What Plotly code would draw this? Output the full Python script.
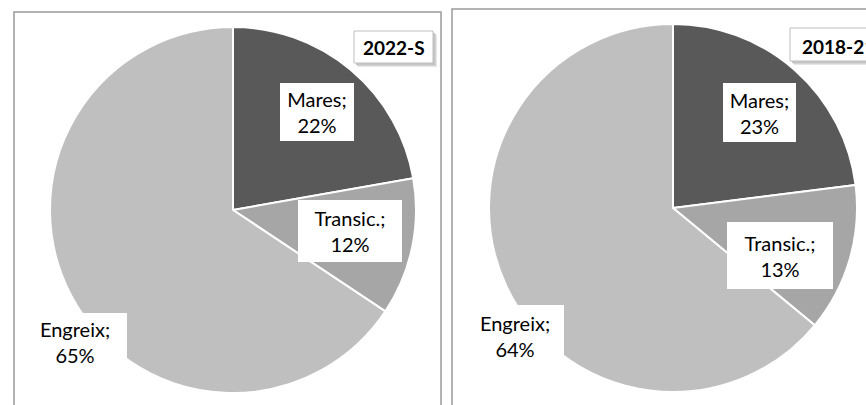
import plotly.graph_objects as go

# ---- data ----
categories = ["Mares", "Transic.", "Engreix"]
values_2022 = [22, 12, 65]
values_2018 = [23, 13, 64]
titles = ["2022-S", "2018-21"]
colors = ["#595959", "#a6a6a6", "#bfbfbf"]

W, H = 866, 405
FONT = "Lato"


def fx(x):
    return x / W


def fy(y):
    return 1 - y / H


fig = go.Figure()

# pies: (values, domain in pixels x0,x1,y0,y1 from top)
pies = [
    (values_2022, (50, 416, 27, 393)),
    (values_2018, (489, 857, 24, 392)),
]
for vals, (x0, x1, y0, y1) in pies:
    fig.add_trace(go.Pie(
        labels=categories,
        values=vals,
        sort=False,
        direction="clockwise",
        rotation=0,
        marker=dict(colors=colors, line=dict(color="white", width=2)),
        textinfo="none",
        hoverinfo="label+percent",
        showlegend=False,
        domain=dict(x=[fx(x0), fx(x1)], y=[fy(y1), fy(y0)]),
    ))

shapes = []
# outer chart borders
for (x0, x1, y0, y1) in [(14, 441, 12, 420), (452, 880, 9, 420)]:
    shapes.append(dict(type="rect", xref="paper", yref="paper",
                       x0=fx(x0), x1=fx(x1), y0=fy(y1), y1=fy(y0),
                       line=dict(color="#9a9a9a", width=1.5), fillcolor="rgba(0,0,0,0)"))

# title boxes with soft shadow
title_boxes = [(354, 433, 31, 63), (790, 890, 28, 61)]
for (x0, x1, y0, y1) in title_boxes:
    for off, col in [(4, "#e6e6e6"), (3, "#d4d4d4"), (2, "#c4c4c4")]:
        shapes.append(dict(type="rect", xref="paper", yref="paper",
                           x0=fx(x0 + off), x1=fx(x1 + off), y0=fy(y1 + off), y1=fy(y0 + off),
                           line=dict(width=0), fillcolor=col))
    shapes.append(dict(type="rect", xref="paper", yref="paper",
                       x0=fx(x0), x1=fx(x1), y0=fy(y1), y1=fy(y0),
                       line=dict(color="#bfbfbf", width=1), fillcolor="white"))

annotations = []
# titles
annotations.append(dict(text="<b>%s</b>" % titles[0], x=fx(393.5), y=fy(48), xref="paper", yref="paper",
                        xanchor="center", yanchor="middle", showarrow=False,
                        font=dict(family=FONT, size=19, color="#000000")))
annotations.append(dict(text="<b>%s</b>" % titles[1], x=fx(800), y=fy(46), xref="paper", yref="paper",
                        xanchor="left", yanchor="middle", showarrow=False,
                        font=dict(family=FONT, size=19, color="#000000")))

# data labels: box (x0, x1, y0, y1) per slice
label_boxes = [
    [(280, 354, 83, 141), (298, 402, 200, 262), (23, 127, 313, 370)],
    [(723, 796, 83, 142), (727, 833, 222, 289), (466, 564, 305, 366)],
]
for vals, boxes in zip([values_2022, values_2018], label_boxes):
    for cat, v, (x0, x1, y0, y1) in zip(categories, vals, boxes):
        annotations.append(dict(
            text="%s;<br>%d%%" % (cat, v),
            x=fx((x0 + x1) / 2), y=fy((y0 + y1) / 2), xref="paper", yref="paper",
            xanchor="center", yanchor="middle", showarrow=False,
            width=x1 - x0, height=y1 - y0, borderpad=0, borderwidth=0,
            bgcolor="white", align="center", valign="middle",
            font=dict(family=FONT, size=20, color="#000000"),
        ))

fig.update_layout(
    width=W, height=H,
    margin=dict(l=0, r=0, t=0, b=0),
    paper_bgcolor="white",
    plot_bgcolor="white",
    shapes=shapes,
    annotations=annotations,
)

fig.write_html(
    "out.html",
    config={"displayModeBar": False},
    post_script="document.body.style.margin='0';document.body.style.overflow='hidden';",
)
